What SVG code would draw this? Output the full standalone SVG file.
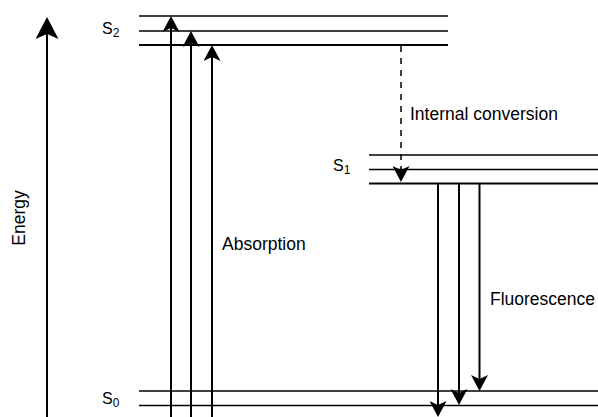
<svg xmlns="http://www.w3.org/2000/svg" width="598" height="417" viewBox="0 0 598 417">
<style>
  .thin { stroke: #000; stroke-width: 1.3; fill: none; }
  .thick { stroke: #000; stroke-width: 2; fill: none; }
  .arrow { stroke: #000; stroke-width: 2; fill: none; marker-end: url(#arr); }
  .dash { stroke: #000; stroke-width: 1.5; fill: none; stroke-dasharray: 6 6; marker-end: url(#arr); }
  .lbl { font-family: "Liberation Sans", Arial, sans-serif; font-size: 17.5px; fill: #000; }
  .st { font-family: "Liberation Sans", Arial, sans-serif; font-size: 16px; fill: #000; }
  .sub { font-size: 12px; }
</style>
<defs>
  <marker id="arr" markerUnits="userSpaceOnUse" viewBox="0 0 16 17" markerWidth="16" markerHeight="17" refX="4" refY="8.5" orient="auto">
    <path d="M0,0 L16,8.5 L0,17 L4,8.5 Z" fill="#000"/>
  </marker>
  <marker id="arrBig" markerUnits="userSpaceOnUse" viewBox="0 0 22 23" markerWidth="22" markerHeight="23" refX="5" refY="11.5" orient="auto">
    <path d="M0,0 L22,11.5 L0,23 L5,11.5 Z" fill="#000"/>
  </marker>
</defs>
<rect width="598" height="417" fill="#fff"/>

<g id="energy-axis">
  <line x1="47" y1="417" x2="47" y2="34" stroke="#000" stroke-width="2" marker-end="url(#arrBig)"/>
  <text class="lbl" x="25" y="218" text-anchor="middle" transform="rotate(-90 25 218)">Energy</text>
</g>

<g id="S2">
  <line class="thin" x1="139" y1="16" x2="448" y2="16"/>
  <line class="thin" x1="139" y1="31" x2="448" y2="31"/>
  <line class="thick" x1="139" y1="45" x2="448" y2="45"/>
  <text class="st" x="102" y="34">S<tspan class="sub" dy="3">2</tspan></text>
</g>

<g id="S1">
  <line class="thin" x1="369" y1="155" x2="598" y2="155"/>
  <line class="thin" x1="369" y1="169.5" x2="598" y2="169.5"/>
  <line class="thick" x1="369" y1="183.5" x2="598" y2="183.5"/>
  <text class="st" x="333" y="171">S<tspan class="sub" dy="3">1</tspan></text>
</g>

<g id="S0">
  <line class="thin" x1="139" y1="391" x2="598" y2="391"/>
  <line class="thin" x1="139" y1="405.5" x2="598" y2="405.5"/>
  <text class="st" x="102" y="404">S<tspan class="sub" dy="3">0</tspan></text>
</g>

<g id="connectors">
  <line class="arrow" x1="171" y1="420" x2="171" y2="28"/>
  <line class="arrow" x1="191" y1="420" x2="191" y2="43"/>
  <line class="arrow" x1="212" y1="420" x2="212" y2="57"/>
  <line class="dash" x1="401" y1="46" x2="401" y2="170"/>
  <line class="arrow" x1="438" y1="184" x2="438" y2="405"/>
  <line class="arrow" x1="459" y1="184" x2="459" y2="393"/>
  <line class="arrow" x1="479.5" y1="184" x2="479.5" y2="379"/>
</g>

<g id="labels">
  <text class="lbl" x="410" y="120">Internal conversion</text>
  <text class="lbl" x="222" y="250">Absorption</text>
  <text class="lbl" x="490" y="305">Fluorescence</text>
</g>
</svg>
